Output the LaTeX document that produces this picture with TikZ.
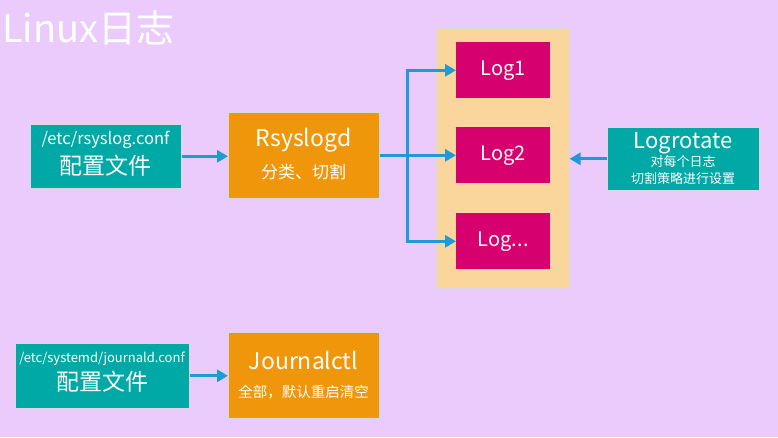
\documentclass[tikz,border=0pt]{standalone}
\usepackage{fontspec}
\setmainfont{Noto Sans CJK SC}
\usetikzlibrary{arrows.meta}
\definecolor{bgc}{HTML}{EBCBFB}
\definecolor{tealc}{HTML}{00A9A6}
\definecolor{orangec}{HTML}{F0960A}
\definecolor{magc}{HTML}{D6006F}
\definecolor{contc}{HTML}{FBD69C}
\definecolor{arrc}{HTML}{1E9AD6}
\tikzset{
  box/.style={draw=white!85!black, line width=0.6pt, inner sep=0pt, anchor=north west},
  tealbox/.style={box, fill=tealc},
  orangebox/.style={box, fill=orangec},
  logbox/.style={box, fill=magc, draw=none},
  txt/.style={text=white, inner sep=0pt, anchor=center},
  arr/.style={draw=arrc, line width=3pt, -{Triangle[length=11pt,width=12pt]}},
  ln/.style={draw=arrc, line width=3pt}
}
\newcommand{\fsz}[1]{\fontsize{#1}{#1}\selectfont}
\begin{document}
\begin{tikzpicture}[x=1pt,y=-1pt]
\useasboundingbox (0,0) rectangle (778,437);
\fill[bgc] (0,0) rectangle (778,437);
\node[txt, anchor=west] (title) at (2,28) {\fsz{38}Linux日志};
% top row
\node[tealbox, minimum width=151pt, minimum height=64pt] (cfg1) at (30,124) {};
\node[txt] (cfg1a) at (105.5,140) {\fsz{16.5}/etc/rsyslog.conf};
\node[txt] (cfg1b) at (105.5,166) {\fsz{23}配置文件};
\node[orangebox, minimum width=151pt, minimum height=86pt] (rsys) at (228,112) {};
\node[txt] (rsysa) at (303.5,140) {\fsz{23}Rsyslogd};
\node[txt] (rsysb) at (303.5,172) {\fsz{17}分类、切割};
% container
\node[box, fill=contc, minimum width=133pt, minimum height=260pt] (cont) at (436,28) {};
\node[logbox, minimum width=94pt, minimum height=56pt] (log1) at (456,42) {};
\node[logbox, minimum width=94pt, minimum height=56pt] (log2) at (456,127) {};
\node[logbox, minimum width=94pt, minimum height=56pt] (log3) at (456,213) {};
\node[txt] (log1t) at (log1.center) {\fsz{20}Log1};
\node[txt] (log2t) at (log2.center) {\fsz{20}Log2};
\node[txt] (log3t) at (log3.center) {\fsz{20}Log...};
% logrotate
\node[tealbox, minimum width=152pt, minimum height=63pt] (logr) at (607,127) {};
\node[txt] (logra) at (683,143) {\fsz{22}Logrotate};
\node[txt] (logrb) at (683,162) {\fsz{13}对每个日志};
\node[txt] (logrc) at (683,179) {\fsz{13}切割策略进行设置};
% bottom row
\node[tealbox, minimum width=174pt, minimum height=65pt] (cfg2) at (15,343) {};
\node[txt] (cfg2a) at (102,359) {\fsz{13}/etc/systemd/journald.conf};
\node[txt] (cfg2b) at (102,382) {\fsz{23}配置文件};
\node[orangebox, minimum width=151pt, minimum height=86pt] (jctl) at (228,332) {};
\node[txt] (jctla) at (303.5,360) {\fsz{23}Journalctl};
\node[txt] (jctlb) at (303.5,392) {\fsz{14.5}全部，默认重启清空};
% connectors
\coordinate (j) at ([xshift=28pt]rsys.east);
\draw[arr] (cfg1.east) -- (cfg1.east -| rsys.west);
\draw[ln] (rsys.east) -- (j);
\draw[arr] (j) -- (j -| log2.west);
\draw[arr] (j) |- (log1.west);
\draw[arr] (j) |- (log3.west);
\draw[arr] (logr.west) -- (logr.west -| cont.east);
\draw[arr] (cfg2.east) -- (cfg2.east -| jctl.west);
\end{tikzpicture}
\end{document}
